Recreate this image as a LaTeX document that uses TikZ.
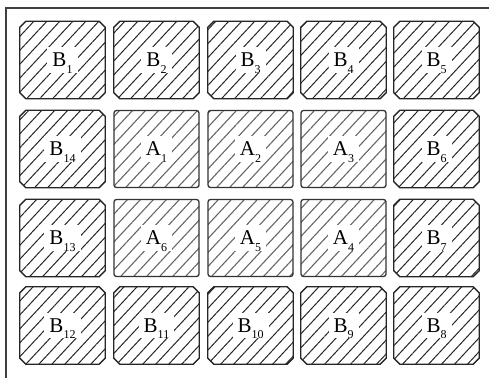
\documentclass[tikz,border=0pt]{standalone}
\usepackage{fontspec}
\setmainfont{Liberation Serif}
\usetikzlibrary{patterns.meta}
\tikzset{
  cell/.style={rectangle, minimum width=85pt, minimum height=77pt, inner sep=0pt},
  bline/.style={draw=black!85, line width=1.3pt,
    pattern={Lines[angle=47,distance=9.5pt,line width=1pt]}, pattern color=black!85},
  abox/.style={cell, rounded corners=2.5pt, draw=black!80, line width=1.3pt,
    pattern={Lines[angle=47,distance=9.5pt,line width=1.1pt]}, pattern color=black!60},
  lab/.style={fill=white, inner xsep=5pt, inner ysep=6pt},
  frame/.style={draw=black!75, line width=1.3pt}
}
\newcommand{\lbl}[2]{\fontsize{21}{21}\selectfont #1\raisebox{-6.5pt}[0pt][0pt]{\fontsize{12}{12}\selectfont #2}}
\newcommand{\bcell}[2]{%
  \node[cell] (#1) at (#2) {};
  \path[bline] ([xshift=6pt]#1.north west) -- ([xshift=-6pt]#1.north east)
    -- ([yshift=-6pt]#1.north east) -- ([yshift=6pt]#1.south east)
    -- ([xshift=-6pt]#1.south east) -- ([xshift=6pt]#1.south west)
    -- ([yshift=6pt]#1.south west) -- ([yshift=-6pt]#1.north west) -- cycle;}
\begin{document}
\begin{tikzpicture}[x=1pt,y=-1pt]
\useasboundingbox (0,0) rectangle (489,378);
\coordinate (fs) at (6,378);
\coordinate (fc) at (6,8);
\coordinate (fe) at (489,8);
\draw[frame] (fs) -- (fc) -- (fe);
% row 1
\bcell{b1}{62.5,60}
\bcell{b2}{156.5,60}
\bcell{b3}{250.5,60}
\bcell{b4}{343.5,60}
\bcell{b5}{436.5,60}
% row 2
\bcell{b14}{62.5,149}
\node[abox] (a1) at (156.5,149) {};
\node[abox] (a2) at (250.5,149) {};
\node[abox] (a3) at (343.5,149) {};
\bcell{b6}{436.5,149}
% row 3
\bcell{b13}{62.5,238}
\node[abox] (a6) at (156.5,238) {};
\node[abox] (a5) at (250.5,238) {};
\node[abox] (a4) at (343.5,238) {};
\bcell{b7}{436.5,238}
% row 4
\bcell{b12}{62.5,325.5}
\bcell{b11}{156.5,325.5}
\bcell{b10}{250.5,325.5}
\bcell{b9}{343.5,325.5}
\bcell{b8}{436.5,325.5}
% labels
\node[lab] (lb1) at (b1) {\lbl{B}{1}};
\node[lab] (lb2) at (b2) {\lbl{B}{2}};
\node[lab] (lb3) at (b3) {\lbl{B}{3}};
\node[lab] (lb4) at (b4) {\lbl{B}{4}};
\node[lab] (lb5) at (b5) {\lbl{B}{5}};
\node[lab] (lb14) at (b14) {\lbl{B}{14}};
\node[lab] (la1) at (a1) {\lbl{A}{1}};
\node[lab] (la2) at (a2) {\lbl{A}{2}};
\node[lab] (la3) at (a3) {\lbl{A}{3}};
\node[lab] (lb6) at (b6) {\lbl{B}{6}};
\node[lab] (lb13) at (b13) {\lbl{B}{13}};
\node[lab] (la6) at (a6) {\lbl{A}{6}};
\node[lab] (la5) at (a5) {\lbl{A}{5}};
\node[lab] (la4) at (a4) {\lbl{A}{4}};
\node[lab] (lb7) at (b7) {\lbl{B}{7}};
\node[lab] (lb12) at (b12) {\lbl{B}{12}};
\node[lab] (lb11) at (b11) {\lbl{B}{11}};
\node[lab] (lb10) at (b10) {\lbl{B}{10}};
\node[lab] (lb9) at (b9) {\lbl{B}{9}};
\node[lab] (lb8) at (b8) {\lbl{B}{8}};
\end{tikzpicture}
\end{document}
